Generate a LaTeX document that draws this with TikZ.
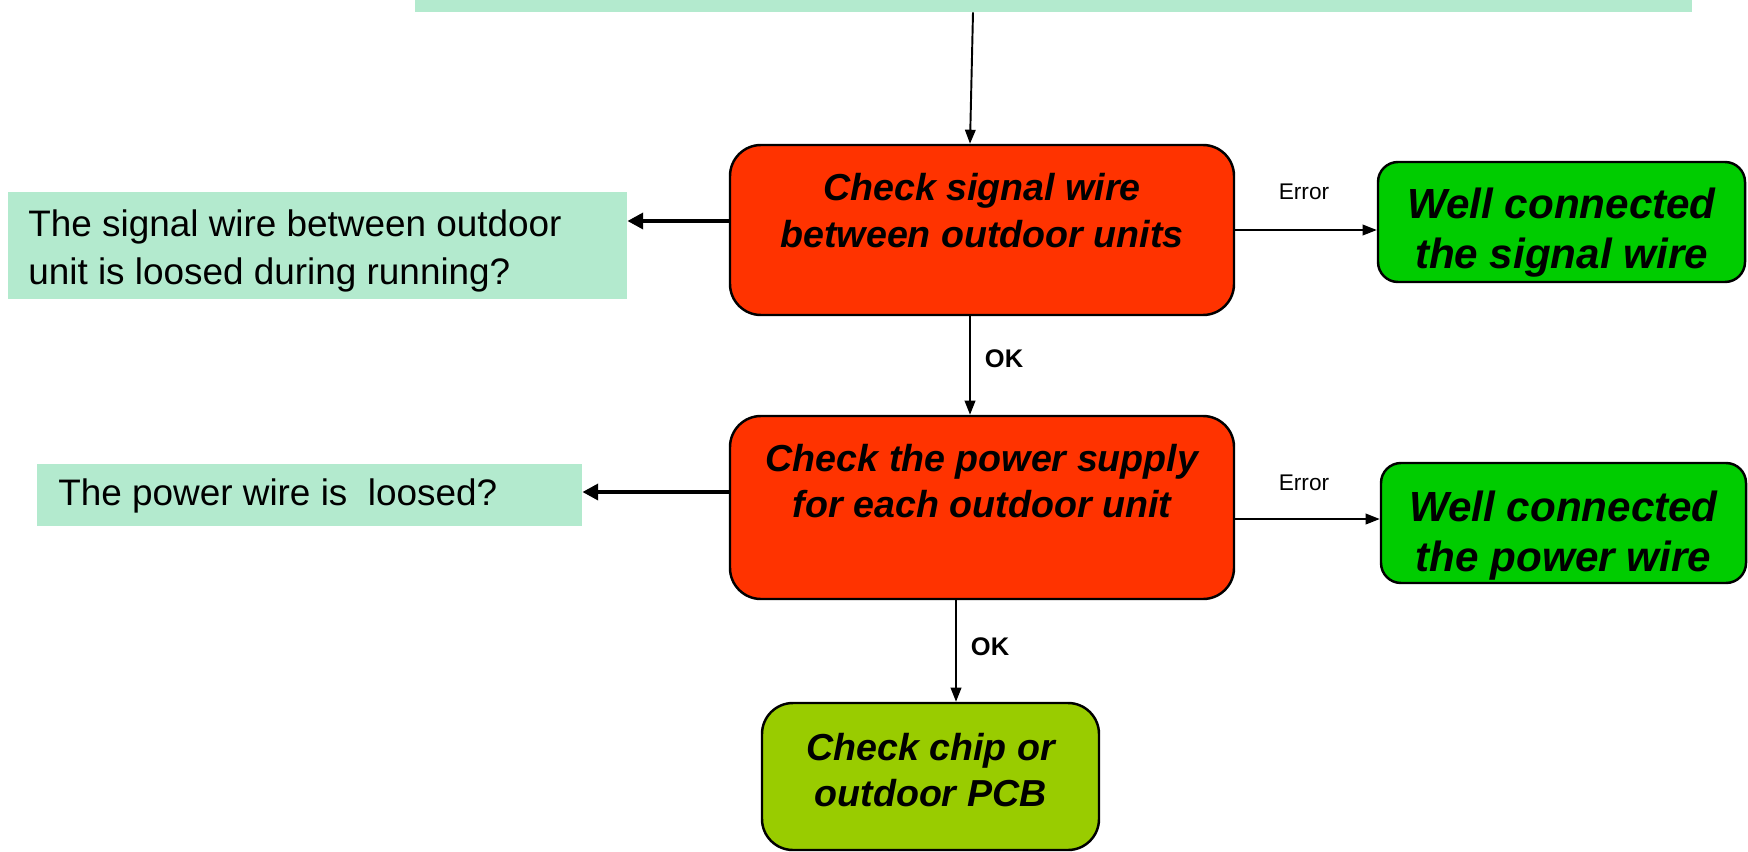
\documentclass[tikz,border=0pt]{standalone}
\usepackage{fontspec}
\setmainfont{Liberation Sans}
\usetikzlibrary{arrows.meta,calc}
\def\pxu{0.02cm}
\definecolor{mint}{RGB}{179,234,206}
\definecolor{redbox}{RGB}{255,51,0}
\definecolor{greenbox}{RGB}{0,204,0}
\definecolor{limebox}{RGB}{153,204,0}
\tikzset{
  stepbox/.style={draw=black, line width=1.4pt, rounded corners=0.62cm},
  endbox/.style={draw=black, line width=1.4pt, rounded corners=0.4cm, fill=greenbox},
  notebox/.style={fill=mint, draw=none},
  boxtext/.style={align=center, font=\bfseries\itshape\fontsize{21.4}{26.6}\selectfont, inner sep=0pt},
  endtext/.style={align=center, font=\bfseries\itshape\fontsize{24}{28.5}\selectfont, inner sep=0pt},
  notetext/.style={align=left, anchor=west, font=\fontsize{21}{27.3}\selectfont, inner sep=0pt},
  flow/.style={line width=1.1pt, -{Triangle[length=8pt,width=6pt]}},
  side/.style={line width=2.3pt, -{Triangle[length=9pt,width=9pt]}},
  errlabel/.style={font=\fontsize{12.9}{15}\selectfont, inner sep=0pt},
  oklabel/.style={font=\bfseries\fontsize{14.5}{17}\selectfont, inner sep=0pt}
}
\begin{document}
\begin{tikzpicture}[x=0.02cm,y=-0.02cm]
\useasboundingbox[fill=white] (0,0) rectangle (1748,852);

% top bar (continues above the page)
\node[notebox, minimum width=1277*\pxu, minimum height=60*\pxu, inner sep=0pt] (bar) at (1053.5,-18) {};

% main check boxes
\node[stepbox, fill=redbox, minimum width=504*\pxu, minimum height=170*\pxu] (r1) at (982,230) {};
\node[boxtext] (r1t) at (982,210.5) {Check signal wire\\between outdoor units};

\node[stepbox, fill=redbox, minimum width=504*\pxu, minimum height=183*\pxu] (r2) at (982,507.5) {};
\node[boxtext] (r2t) at (982,481) {Check the power supply\\for each outdoor unit};

\node[stepbox, fill=limebox, minimum width=337*\pxu, minimum height=147*\pxu] (r3) at (930.5,776.5) {};
\node[boxtext] (r3t) at (930.5,770) {Check chip or\\outdoor PCB};

% notes on the left
\node[notebox, minimum width=619*\pxu, minimum height=107*\pxu] (n1) at (317.5,245.5) {};
\node[notetext] (n1t) at (28,250.5) {The signal wire between outdoor\\unit is loosed during running?};

\node[notebox, minimum width=545*\pxu, minimum height=62*\pxu] (n2) at (309.5,495) {};
\node[notetext] (n2t) at (58,496) {The power wire is\ \ loosed?};

% remedies on the right
\node[endbox, minimum width=367*\pxu, minimum height=120*\pxu] (g1) at (1561.5,222) {};
\node[endtext] (g1t) at (1561.5,233) {Well connected\\the signal wire};

\node[endbox, minimum width=365*\pxu, minimum height=120*\pxu] (g2) at (1563.5,523) {};
\node[endtext] (g2t) at (1563.5,536) {Well connected\\the power wire};

% connectors
\draw[flow] ([xshift=-80.5*\pxu]bar.south) -- ([xshift=-12*\pxu]r1.north);
\draw[flow] ([xshift=-12*\pxu]r1.south) -- ([xshift=-12*\pxu]r2.north)
  node[oklabel, pos=0.43, right=14*\pxu] (ok1) {OK};
\draw[flow] ([xshift=-26*\pxu]r2.south) -- ([xshift=25.5*\pxu]r3.north)
  node[oklabel, pos=0.46, right=14*\pxu] (ok2) {OK};

\draw[side] ([yshift=9*\pxu]r1.west) coordinate (a1) -- (a1 -| n1.east);
\draw[side] ([yshift=15.5*\pxu]r2.west) coordinate (a2) -- (a2 -| n2.east);

\draw[flow] (r1.east) -- (r1.east -| g1.west);
\node[errlabel] (e1) at (1304,192) {Error};
\draw[flow] ([yshift=-11.5*\pxu]r2.east) coordinate (a3) -- (a3 -| g2.west);
\node[errlabel] (e2) at (1304,483) {Error};
\end{tikzpicture}
\end{document}
